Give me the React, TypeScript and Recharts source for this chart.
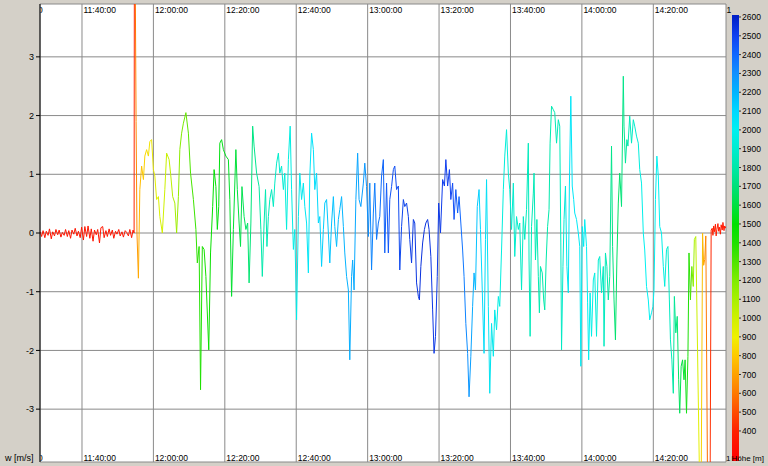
import React from 'react';
import { ComposedChart, Line, XAxis, YAxis, CartesianGrid } from 'recharts';

// vario readings: [minute of day, w in m/s]
const preLaunch: [number, number][] = [
  [688.3, 0.02], [688.7, -0.06], [689.1, 0.04], [689.6, -0.08], [690.0, 0.03], [690.5, -0.04], [690.9, 0.07],
  [691.4, -0.1], [691.8, 0.02], [692.3, -0.05], [692.7, 0.06], [693.2, -0.03], [693.6, 0.05], [694.1, -0.07],
  [694.5, 0.01], [695.0, -0.04], [695.4, 0.06], [695.9, -0.06], [696.3, 0.04], [696.8, -0.09], [697.2, 0.05],
  [697.7, -0.02], [698.1, 0.08], [698.6, -0.05], [699.0, 0.03], [699.5, -0.08], [699.9, 0.1], [700.4, -0.12],
  [700.8, 0.11], [701.3, -0.06], [701.7, 0.12], [702.2, -0.09], [702.6, 0.07], [703.1, -0.14], [703.5, 0.05],
  [704.0, -0.03], [704.4, 0.06], [704.9, -0.17], [705.3, 0.09], [705.8, 0.11], [706.2, -0.08], [706.7, 0.04],
  [707.1, -0.06], [707.6, 0.07], [708.0, -0.04], [708.5, 0.05], [708.9, -0.09], [709.4, 0.03], [709.8, -0.02],
  [710.3, 0.06], [710.7, -0.05], [711.2, 0.02], [711.6, -0.07], [712.1, 0.04], [712.5, 0.01], [713.0, -0.05],
  [713.4, 0.06], [713.9, -0.08], [714.3, 0.05], [714.6, 0.0],
];

const launchClimb: [number, number][] = [
  [714.7, 6.5], [715.15, 1.9], [715.4, 0.0], [715.8, -0.77], [716.2, 0.74], [716.7, 1.14], [717.2, 0.91],
  [717.6, 1.31], [718.1, 1.42], [718.6, 1.31], [719.0, 1.56], [719.5, 1.59], [720.0, 1.08], [720.4, 0.97],
  [720.9, 0.57], [721.4, 0.62], [721.8, 0.28], [722.5, 0.0], [723.2, 0.74], [723.7, 1.36], [724.4, 1.25],
  [724.8, 1.02], [725.4, 0.62], [726.0, 0.51], [726.5, 0.0], [727.0, 0.62], [727.4, 1.42], [727.9, 1.7],
  [728.4, 1.87], [729.1, 2.05], [729.8, 1.7], [730.4, 1.02], [731.2, 0.57], [731.9, 0.06], [732.3, -0.51],
  [732.8, -0.23], [733.2, -2.67], [733.7, -0.23], [734.2, -0.28], [734.7, -0.74], [735.5, -1.99], [736.0, -0.34],
  [736.6, 0.45], [737.0, 1.08], [737.5, 0.79], [737.9, 0.06], [738.3, 0.45], [738.6, 1.53], [739.1, 1.59],
  [739.6, 1.42], [740.3, 1.31], [741.0, 1.25], [741.4, 0.57], [741.9, -1.08], [742.4, 0.06], [743.1, 1.42],
  [743.5, 0.74], [744.0, 0.17], [744.4, -0.23], [744.8, 0.79], [745.4, 0.28], [745.9, 0.06], [746.4, 0.17],
  [746.8, -0.85], [747.3, 0.17], [747.8, 1.82], [748.2, 1.48], [748.9, 1.02], [749.6, 0.79],
];

const midFlightA: [number, number][] = [
  [750.1, 0.06], [750.5, -0.74], [751.0, 0.17], [751.4, 0.74], [751.8, -0.23], [752.2, 0.28], [752.6, 0.57],
  [753.1, 0.74], [753.6, 0.45], [754.0, 0.85], [754.5, 1.19], [755.0, 1.36], [755.4, 1.02], [755.9, 1.14],
  [756.4, 0.74], [756.8, 1.02], [757.3, 0.06], [757.8, 1.25], [758.3, 1.82], [758.7, 0.74], [759.2, -0.28],
  [759.6, 0.06], [760.1, -1.48], [760.6, 0.28], [761.0, 1.02], [761.5, 0.57], [762.0, 0.85], [762.4, 0.45],
  [762.9, 0.17], [763.4, -0.68], [763.8, 0.97], [764.3, 1.7], [764.8, 1.42], [765.2, 0.74], [765.7, 1.02],
  [766.2, 0.17], [766.6, 0.28], [767.1, -0.57], [767.6, 0.06], [768.0, 0.51], [768.5, 0.57], [769.0, 0.0],
  [769.4, -0.51], [769.9, 0.17], [770.4, 0.62], [770.8, 0.11], [771.3, -0.23], [771.8, 0.23], [772.2, 0.4],
  [772.7, 0.62], [773.2, 0.11], [773.6, -0.34], [774.1, -0.74], [774.6, -0.97], [775.0, -2.16], [775.5, -0.74],
  [775.8, -0.46], [776.2, -0.97], [776.7, 0.57], [777.2, 1.36], [777.6, 0.57], [778.1, 0.45], [778.8, 0.85],
  [779.2, 1.19], [779.7, 0.79], [780.2, -0.06], [780.6, 0.85], [781.1, -0.63], [781.6, 0.34], [782.0, 0.85],
  [782.5, -0.11], [783.0, 0.17], [783.4, 0.28], [783.9, 0.97], [784.4, 1.25], [784.8, -0.34], [785.3, 0.85],
  [785.8, -0.34], [786.2, 0.57], [786.7, 0.79], [787.2, 1.08], [787.6, 1.14],
];

const midFlightB: [number, number][] = [
  [788.1, 0.74], [788.6, 0.8], [789.0, -0.63], [789.5, 0.11], [790.0, 0.57], [790.4, 0.45], [790.9, 0.51],
  [791.4, 0.28], [791.8, -0.11], [792.3, -0.51], [792.8, 0.23], [793.2, 0.17], [793.7, -0.85], [794.2, -1.08],
  [794.5, -1.14], [794.9, -0.57], [795.4, -0.17], [795.9, 0.06], [796.3, 0.17], [796.8, 0.23], [797.2, 0.06],
  [797.7, -0.4], [798.2, -1.31], [798.6, -2.05], [799.0, -1.76], [799.5, -0.74], [799.9, 0.51], [800.4, 0.0],
  [801.0, 0.91], [801.5, 0.8], [801.9, 1.25], [802.4, 0.8], [802.9, 1.08], [803.3, 0.57], [803.8, 0.85],
  [804.2, 0.23], [804.7, 0.74], [805.2, 0.34], [805.6, 0.62], [806.1, 0.17], [806.6, -0.29], [807.0, -0.74],
  [807.5, -1.54], [808.0, -2.05], [808.4, -2.79], [808.9, -2.1], [809.4, -1.25], [809.8, -0.68], [810.2, -0.97],
  [810.7, 0.45], [811.2, 0.74], [811.6, 0.06], [812.1, -0.97], [812.6, -2.05], [813.0, -0.11], [813.3, 0.91],
  [813.8, -1.25], [814.2, -2.73], [814.7, -1.54], [815.2, -2.1], [815.6, -1.31], [816.1, -1.65], [816.6, -1.08],
  [817.0, -1.25], [817.5, -0.29], [818.0, 0.74], [818.4, 1.31], [818.9, 1.76], [819.4, 1.02], [819.8, 0.74],
  [820.3, 0.06], [820.8, 0.85], [821.2, -0.4], [821.7, 0.28], [822.2, 0.06], [822.6, 0.17], [823.1, -0.97],
  [823.6, 0.28], [824.0, -0.11],
];

const lateFlight: [number, number][] = [
  [824.5, 0.4], [825.0, 1.53], [825.2, -0.46], [825.5, -1.76], [825.9, 0.11], [826.4, 0.68], [826.6, 1.02],
  [827.0, -0.46], [827.4, 0.23], [827.8, -0.74], [828.1, -1.36], [828.4, -0.57], [828.9, -0.68], [829.3, -1.14],
  [829.6, -1.31], [830.0, -0.46], [830.4, 0.11], [830.8, 0.4], [831.1, 1.53], [831.5, 2.16], [832.0, 2.1],
  [832.4, 2.05], [832.9, 1.53], [833.4, 1.93], [833.8, 1.82], [834.1, -0.17], [834.3, -1.99], [834.7, -0.57],
  [835.0, 0.23], [835.4, 0.8], [835.8, -0.57], [836.2, -1.02], [836.5, 0.8], [836.9, 2.33], [837.3, 0.8],
  [837.7, 0.57], [838.0, 0.34], [838.5, 0.23], [839.0, 0.0], [839.4, -0.23], [839.7, -2.27], [840.1, 0.11],
  [840.5, -0.23], [840.8, 0.23], [841.3, -0.23], [841.6, -1.19], [841.9, -2.16], [842.3, -1.02], [842.7, -1.76],
  [843.2, -0.8], [843.6, -0.68], [844.1, -1.76], [844.6, -0.46], [845.0, -0.4], [845.5, -1.02], [846.0, -0.57],
  [846.2, -1.93], [846.6, -0.34], [847.0, -0.57], [847.4, -1.14], [847.8, -0.74], [848.3, 1.48], [848.6, -0.23],
  [849.0, -1.14], [849.4, -1.82], [849.8, -0.46], [850.2, 0.51], [850.6, 1.02], [851.1, 0.45], [851.6, 2.67],
  [851.8, 1.82], [852.2, 1.19], [852.6, 1.59], [852.9, 1.48], [853.4, 1.99], [853.9, 1.53], [854.4, 1.93],
  [854.8, 1.82], [855.3, 1.65], [855.8, 1.53], [856.2, 1.08], [856.7, 0.85], [857.2, 0.0], [857.6, -0.29],
  [858.1, -0.91], [858.6, -1.14], [859.0, -1.48], [859.5, -1.36], [859.9, -1.25], [860.2, -0.97], [860.6, 0.57],
  [861.0, 1.31], [861.4, 0.97], [861.8, 0.11], [862.3, 0.0], [862.8, -0.57],
];

const landing: [number, number][] = [
  [863.2, -0.91], [863.7, -0.28], [864.1, -0.23], [864.5, -1.14], [864.8, -1.82], [865.2, -2.16], [865.6, -2.73],
  [865.9, -1.08], [866.3, -1.7], [866.7, -1.42], [867.1, -2.5], [867.4, -3.07], [867.8, -2.27], [868.2, -2.16],
  [868.6, -2.5], [868.9, -2.16], [869.3, -3.07], [869.7, -2.1], [870.0, -0.34], [870.4, -1.14], [870.8, -0.57],
  [871.2, -0.91], [871.5, -0.11], [871.9, -0.06], [873.0, -4.4], [873.4, -4.4], [873.8, 0.0], [874.1, -0.55],
  [874.4, -0.45], [874.7, -0.05], [875.2, -4.4], [875.9, -4.4], [876.2, 0.05], [876.5, 0.08], [876.7, -0.04],
  [876.9, 0.12], [877.1, 0.02], [877.4, 0.15], [877.6, -0.05], [877.8, 0.06], [878.1, 0.16], [878.3, 0.03],
  [878.5, 0.1], [878.8, -0.02], [879.0, 0.14], [879.3, 0.05], [879.5, 0.18], [879.8, 0.04], [880.0, 0.12],
  [880.3, 0.08],
];

// altitude along the flight: [minute of day, Höhe in m]
const altitudeProfile: [number, number][] = [
  [688.3, 350], [714.6, 350], [715.0, 600], [716.0, 750], [718.0, 850], [721.0, 950], [725.0, 1050],
  [729.0, 1250], [733.0, 1400], [737.0, 1500], [744.0, 1600], [750.0, 1800], [758.0, 1950], [764.0, 2050],
  [769.0, 2150], [778.0, 2250], [786.0, 2450], [795.0, 2550], [803.0, 2500], [806.0, 2400], [809.0, 2250],
  [811.5, 2100], [817.0, 1950], [825.0, 1850], [830.0, 1800], [834.0, 1850], [836.5, 2050], [842.0, 2000],
  [846.5, 1850], [850.0, 1650], [853.5, 1850], [857.5, 2000], [862.0, 2000], [865.0, 1850], [868.0, 1600],
  [870.0, 1400], [871.5, 1100], [873.0, 900], [874.2, 700], [875.3, 550], [876.2, 400], [880.3, 350],
];

const heightScale: [number, string][] = [
  [250, '#ff0000'], [400, '#ff2000'], [500, '#ff4a00'], [600, '#ff7800'], [700, '#ffa000'], [800, '#ffc800'],
  [900, '#f0f000'], [1000, '#d0f000'], [1100, '#a8f000'], [1200, '#80ec00'], [1300, '#50e400'],
  [1400, '#20e000'], [1500, '#00e000'], [1600, '#00e040'], [1700, '#00e078'], [1800, '#00e8a8'],
  [1900, '#00ecd0'], [2000, '#00f0f0'], [2100, '#00d8ff'], [2200, '#00b4ff'], [2300, '#1090ff'],
  [2400, '#1068ff'], [2500, '#1040f0'], [2600, '#0020c8'],
];

const timeTicks = [700, 720, 740, 760, 780, 800, 820, 840, 860];
const varioTicks = [-3, -2, -1, 0, 1, 2, 3];
const heightTicks = [400, 500, 600, 700, 800, 900, 1000, 1100, 1200, 1300, 1400, 1500, 1600, 1700, 1800, 1900,
  2000, 2100, 2200, 2300, 2400, 2500, 2600];

const FONT = '"Liberation Sans", Arial, sans-serif';

const flight = [...preLaunch, ...launchClimb, ...midFlightA, ...midFlightB, ...lateFlight, ...landing]
  .map(([t, w]) => ({ t, w }));

const hex = (c: string) => [1, 3, 5].map(i => parseInt(c.slice(i, i + 2), 16));

function heightColor(h: number): string {
  if (h <= heightScale[0][0]) return heightScale[0][1];
  for (let i = 1; i < heightScale.length; i++) {
    const [h1, c1] = heightScale[i];
    if (h <= h1) {
      const [h0, c0] = heightScale[i - 1];
      const f = (h - h0) / (h1 - h0);
      const a = hex(c0), b = hex(c1);
      return `rgb(${a.map((v, k) => Math.round(v + (b[k] - v) * f)).join(',')})`;
    }
  }
  return heightScale[heightScale.length - 1][1];
}

const fmtTime = (m: number) => {
  const h = Math.floor(m / 60);
  const mm = Math.round(m % 60);
  return `${h}:${String(mm).padStart(2, '0')}:00`;
};

// time labels sit inside the plot, at the top and at the bottom, right of each grid line
const TimeTick = (props: any) => {
  const { x, payload } = props;
  const label = fmtTime(payload.value);
  return (
    <g>
      <text x={x + 1.5} y={13} fontSize={8.5} fill="#000" fontFamily={FONT}>{label}</text>
      <text x={x + 1.5} y={461} fontSize={8.5} fill="#000" fontFamily={FONT}>{label}</text>
    </g>
  );
};

const HeightTick = (props: any) => {
  const { x, y, payload } = props;
  return (
    <g>
      <line x1={x - 3} x2={x - 1} y1={y} y2={y} stroke="#333" />
      <text x={x} y={y + 3} fontSize={8.5} fill="#000" fontFamily={FONT}>{payload.value}</text>
    </g>
  );
};

const tFirst = flight[0].t;
const tLast = flight[flight.length - 1].t;
const barTop = 2610;
const barBottom = 244;

export default function App() {
  return (
    <div style={{ position: 'absolute', left: 0, top: 0, width: 768, height: 466, background: '#d4d0c8', fontFamily: FONT }}>
      <ComposedChart width={768} height={466} data={flight} margin={{ top: 4, right: 0, bottom: 3, left: 0 }}>
        <defs>
          <linearGradient id="altStroke" x1="0" y1="0" x2="1" y2="0">
            {altitudeProfile.map(([t, h], i) => (
              <stop key={i} offset={(t - tFirst) / (tLast - tFirst)} stopColor={heightColor(h)} />
            ))}
          </linearGradient>
        </defs>
        <CartesianGrid yAxisId="w" stroke="#8a8a8a" fill="#ffffff" fillOpacity={1} />
        <XAxis
          dataKey="t"
          type="number"
          domain={[688.24, 880.36]}
          allowDataOverflow
          ticks={timeTicks}
          height={1}
          axisLine={false}
          tickLine={false}
          tick={TimeTick}
          interval={0}
        />
        <YAxis
          yAxisId="w"
          type="number"
          domain={[-3.9, 3.9]}
          allowDataOverflow
          ticks={varioTicks}
          width={40}
          axisLine={{ stroke: '#000' }}
          tickLine={{ stroke: '#000' }}
          tickSize={4}
          tickMargin={2}
          tick={{ fontSize: 9, fill: '#000' }}
          interval={0}
        />
        <YAxis
          yAxisId="alt"
          orientation="right"
          type="number"
          domain={[235, 2669]}
          allowDataOverflow
          ticks={heightTicks}
          width={42}
          axisLine={false}
          tickLine={false}
          tickSize={13}
          tickMargin={3}
          tick={HeightTick}
          interval={0}
        />
        <Line
          yAxisId="w"
          type="linear"
          dataKey="w"
          stroke="url(#altStroke)"
          strokeWidth={1}
          dot={false}
          activeDot={false}
          isAnimationActive={false}
        />
      </ComposedChart>
      <svg width={768} height={466} style={{ position: 'absolute', left: 0, top: 0, pointerEvents: 'none' }}>
        <defs>
          <linearGradient id="altBar" x1="0" y1="0" x2="0" y2="1">
            {[...heightScale].reverse().map(([h, c], i) => (
              <stop key={i} offset={Math.min(1, Math.max(0, (barTop - h) / (barTop - barBottom)))} stopColor={c} />
            ))}
          </linearGradient>
          <clipPath id="plotClip">
            <rect x={40.5} y={0} width={685.5} height={466} />
          </clipPath>
        </defs>
        <rect x={732} y={15} width={7} height={446} fill="url(#altBar)" />
        <text x={5} y={461} fontSize={9} fill="#000" fontFamily={FONT}>w [m/s]</text>
        <text x={731.5} y={461} fontSize={8} fill="#000" fontFamily={FONT}>Höhe [m]</text>
        <g clipPath="url(#plotClip)">
          <text x={38} y={13} fontSize={8.5} fill="#000" fontFamily={FONT}>0</text>
          <text x={38} y={461} fontSize={8.5} fill="#000" fontFamily={FONT}>0</text>
        </g>
        <text x={726.5} y={13} fontSize={8.5} fill="#000" fontFamily={FONT}>1</text>
        <text x={726} y={461} fontSize={8} fill="#000" fontFamily={FONT}>1</text>
      </svg>
    </div>
  );
}
